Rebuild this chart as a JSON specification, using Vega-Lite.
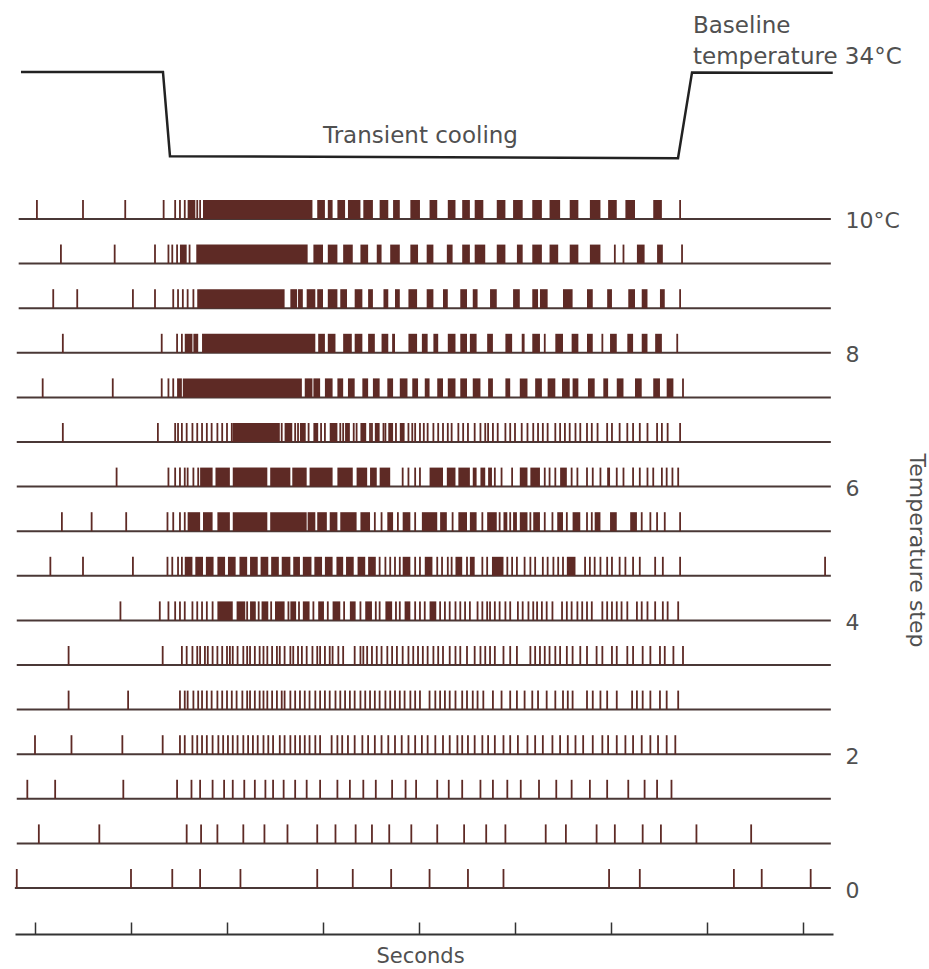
{
"$schema":"https://vega.github.io/schema/vega-lite/v6.json",
"width":818,"height":969,
"autosize":{"type":"none"},
"padding":{"left":15,"right":96,"top":0,"bottom":0},
"background":"white",
"config":{"view":{"stroke":null},"axis":{"labelFont":"DejaVu Sans","titleFont":"DejaVu Sans"}},
"datasets":{
"lanes":[{"r":0,"t0":-0.21,"t1":8.29},{"r":1,"t0":-0.19,"t1":8.29},{"r":2,"t0":-0.19,"t1":8.29},{"r":3,"t0":-0.19,"t1":8.29},{"r":4,"t0":-0.19,"t1":8.29},{"r":5,"t0":-0.19,"t1":8.29},{"r":6,"t0":-0.19,"t1":8.29},{"r":7,"t0":-0.19,"t1":8.29},{"r":8,"t0":-0.19,"t1":8.29},{"r":9,"t0":-0.19,"t1":8.29},{"r":10,"t0":-0.19,"t1":8.29},{"r":11,"t0":-0.19,"t1":8.29},{"r":12,"t0":-0.19,"t1":8.29},{"r":13,"t0":-0.17,"t1":8.29},{"r":14,"t0":-0.17,"t1":8.29},{"r":15,"t0":-0.17,"t1":8.29}],
"trace":[{"t":-0.146,"temp":34},{"t":1.333,"temp":34},{"t":1.406,"temp":24.1},{"t":6.698,"temp":23.85},{"t":6.844,"temp":33.95},{"t":8.31,"temp":33.9}],
"notes":[{"t":3.0,"temp":25.65,"label":"Transient cooling"},{"t":6.854,"temp":38.53,"label":"Baseline"},{"t":6.854,"temp":34.94,"label":"temperature 34°C"}],
"bursts":[
{"r":15,"t0":1.59,"t1":1.67},{"r":15,"t0":1.75,"t1":2.89},{"r":15,"t0":2.94,"t1":3.02},{"r":15,"t0":3.05,"t1":3.10},{"r":15,"t0":3.15,"t1":3.23},{"r":15,"t0":3.26,"t1":3.39},{"r":15,"t0":3.42,"t1":3.52},{"r":15,"t0":3.59,"t1":3.68},{"r":15,"t0":3.73,"t1":3.80},{"r":15,"t0":3.91,"t1":4.01},{"r":15,"t0":4.11,"t1":4.19},{"r":15,"t0":4.30,"t1":4.38},{"r":15,"t0":4.45,"t1":4.53},{"r":15,"t0":4.58,"t1":4.67},{"r":15,"t0":4.81,"t1":4.90},{"r":15,"t0":4.98,"t1":5.08},{"r":15,"t0":5.18,"t1":5.28},{"r":15,"t0":5.36,"t1":5.47},{"r":15,"t0":5.57,"t1":5.66},{"r":15,"t0":5.78,"t1":5.89},{"r":15,"t0":5.97,"t1":6.06},{"r":15,"t0":6.15,"t1":6.25},{"r":15,"t0":6.44,"t1":6.53},
{"r":14,"t0":1.51,"t1":1.58},{"r":14,"t0":1.68,"t1":2.84},{"r":14,"t0":2.90,"t1":3.00},{"r":14,"t0":3.05,"t1":3.15},{"r":14,"t0":3.21,"t1":3.31},{"r":14,"t0":3.39,"t1":3.47},{"r":14,"t0":3.56,"t1":3.61},{"r":14,"t0":3.70,"t1":3.80},{"r":14,"t0":3.91,"t1":3.99},{"r":14,"t0":4.08,"t1":4.15},{"r":14,"t0":4.29,"t1":4.35},{"r":14,"t0":4.45,"t1":4.53},{"r":14,"t0":4.58,"t1":4.69},{"r":14,"t0":4.81,"t1":4.90},{"r":14,"t0":5.02,"t1":5.08},{"r":14,"t0":5.18,"t1":5.28},{"r":14,"t0":5.36,"t1":5.45},{"r":14,"t0":5.57,"t1":5.66},{"r":14,"t0":5.78,"t1":5.89},{"r":14,"t0":6.27,"t1":6.35},{"r":14,"t0":6.48,"t1":6.54},
{"r":13,"t0":1.69,"t1":2.60},{"r":13,"t0":2.66,"t1":2.73},{"r":13,"t0":2.74,"t1":2.79},{"r":13,"t0":2.83,"t1":2.92},{"r":13,"t0":2.94,"t1":3.00},{"r":13,"t0":3.05,"t1":3.15},{"r":13,"t0":3.18,"t1":3.25},{"r":13,"t0":3.33,"t1":3.41},{"r":13,"t0":3.47,"t1":3.52},{"r":13,"t0":3.63,"t1":3.68},{"r":13,"t0":3.75,"t1":3.80},{"r":13,"t0":3.89,"t1":3.98},{"r":13,"t0":4.08,"t1":4.15},{"r":13,"t0":4.25,"t1":4.30},{"r":13,"t0":4.43,"t1":4.50},{"r":13,"t0":4.56,"t1":4.61},{"r":13,"t0":4.74,"t1":4.81},{"r":13,"t0":4.98,"t1":5.05},{"r":13,"t0":5.18,"t1":5.24},{"r":13,"t0":5.26,"t1":5.34},{"r":13,"t0":5.50,"t1":5.60},{"r":13,"t0":5.75,"t1":5.81},{"r":13,"t0":5.96,"t1":6.01},{"r":13,"t0":6.18,"t1":6.25},{"r":13,"t0":6.32,"t1":6.38},{"r":13,"t0":6.51,"t1":6.56},
{"r":12,"t0":1.56,"t1":1.64},{"r":12,"t0":1.65,"t1":1.70},{"r":12,"t0":1.74,"t1":2.92},{"r":12,"t0":2.95,"t1":3.02},{"r":12,"t0":3.05,"t1":3.13},{"r":12,"t0":3.21,"t1":3.30},{"r":12,"t0":3.33,"t1":3.41},{"r":12,"t0":3.47,"t1":3.54},{"r":12,"t0":3.61,"t1":3.68},{"r":12,"t0":3.72,"t1":3.75},{"r":12,"t0":3.89,"t1":3.98},{"r":12,"t0":4.03,"t1":4.09},{"r":12,"t0":4.15,"t1":4.20},{"r":12,"t0":4.30,"t1":4.38},{"r":12,"t0":4.43,"t1":4.50},{"r":12,"t0":4.53,"t1":4.60},{"r":12,"t0":4.71,"t1":4.77},{"r":12,"t0":4.90,"t1":4.97},{"r":12,"t0":5.07,"t1":5.10},{"r":12,"t0":5.18,"t1":5.26},{"r":12,"t0":5.42,"t1":5.50},{"r":12,"t0":5.59,"t1":5.66},{"r":12,"t0":5.75,"t1":5.81},{"r":12,"t0":5.99,"t1":6.06},{"r":12,"t0":6.17,"t1":6.23},{"r":12,"t0":6.32,"t1":6.38},{"r":12,"t0":6.46,"t1":6.53},
{"r":11,"t0":1.48,"t1":1.53},{"r":11,"t0":1.54,"t1":2.78},{"r":11,"t0":2.81,"t1":2.89},{"r":11,"t0":2.90,"t1":2.97},{"r":11,"t0":3.02,"t1":3.10},{"r":11,"t0":3.15,"t1":3.21},{"r":11,"t0":3.26,"t1":3.33},{"r":11,"t0":3.41,"t1":3.47},{"r":11,"t0":3.52,"t1":3.59},{"r":11,"t0":3.67,"t1":3.73},{"r":11,"t0":3.80,"t1":3.88},{"r":11,"t0":3.93,"t1":3.99},{"r":11,"t0":4.06,"t1":4.11},{"r":11,"t0":4.19,"t1":4.25},{"r":11,"t0":4.30,"t1":4.38},{"r":11,"t0":4.43,"t1":4.50},{"r":11,"t0":4.56,"t1":4.64},{"r":11,"t0":4.72,"t1":4.77},{"r":11,"t0":4.90,"t1":4.95},{"r":11,"t0":5.05,"t1":5.13},{"r":11,"t0":5.21,"t1":5.28},{"r":11,"t0":5.34,"t1":5.42},{"r":11,"t0":5.49,"t1":5.57},{"r":11,"t0":5.60,"t1":5.66},{"r":11,"t0":5.76,"t1":5.83},{"r":11,"t0":5.92,"t1":5.97},{"r":11,"t0":6.06,"t1":6.13},{"r":11,"t0":6.25,"t1":6.32},{"r":11,"t0":6.44,"t1":6.51},{"r":11,"t0":6.58,"t1":6.65},
{"r":10,"t0":2.06,"t1":2.55},{"r":10,"t0":2.60,"t1":2.68},{"r":10,"t0":2.76,"t1":2.82},{"r":10,"t0":2.90,"t1":2.95},{"r":10,"t0":3.07,"t1":3.15},{"r":10,"t0":3.23,"t1":3.28},{"r":10,"t0":3.39,"t1":3.45},{"r":10,"t0":3.54,"t1":3.59},{"r":10,"t0":3.68,"t1":3.73},{"r":10,"t0":3.80,"t1":3.85},
{"r":9,"t0":1.72,"t1":1.85},{"r":9,"t0":1.88,"t1":2.03},{"r":9,"t0":2.06,"t1":2.42},{"r":9,"t0":2.45,"t1":2.66},{"r":9,"t0":2.68,"t1":2.83},{"r":9,"t0":2.86,"t1":3.10},{"r":9,"t0":3.15,"t1":3.31},{"r":9,"t0":3.35,"t1":3.46},{"r":9,"t0":3.49,"t1":3.56},{"r":9,"t0":3.59,"t1":3.70},{"r":9,"t0":4.11,"t1":4.25},{"r":9,"t0":4.29,"t1":4.38},{"r":9,"t0":4.41,"t1":4.53},{"r":9,"t0":4.56,"t1":4.60},{"r":9,"t0":4.64,"t1":4.69},{"r":9,"t0":4.72,"t1":4.76},{"r":9,"t0":5.05,"t1":5.13},{"r":9,"t0":5.16,"t1":5.26},{"r":9,"t0":5.47,"t1":5.54},{"r":9,"t0":5.96,"t1":5.99},
{"r":8,"t0":1.59,"t1":1.72},{"r":8,"t0":1.75,"t1":1.85},{"r":8,"t0":1.90,"t1":2.03},{"r":8,"t0":2.06,"t1":2.42},{"r":8,"t0":2.45,"t1":2.83},{"r":8,"t0":2.84,"t1":2.92},{"r":8,"t0":2.94,"t1":3.04},{"r":8,"t0":3.07,"t1":3.15},{"r":8,"t0":3.18,"t1":3.35},{"r":8,"t0":3.39,"t1":3.49},{"r":8,"t0":3.67,"t1":3.73},{"r":8,"t0":3.83,"t1":3.91},{"r":8,"t0":4.03,"t1":4.19},{"r":8,"t0":4.22,"t1":4.29},{"r":8,"t0":4.41,"t1":4.50},{"r":8,"t0":4.53,"t1":4.60},{"r":8,"t0":4.71,"t1":4.81},{"r":8,"t0":4.88,"t1":4.92},{"r":8,"t0":4.98,"t1":5.02},{"r":8,"t0":5.05,"t1":5.13},{"r":8,"t0":5.19,"t1":5.26},{"r":8,"t0":5.44,"t1":5.50},{"r":8,"t0":5.60,"t1":5.68},{"r":8,"t0":5.83,"t1":5.89},{"r":8,"t0":5.99,"t1":6.06},{"r":8,"t0":6.20,"t1":6.27},
{"r":7,"t0":1.56,"t1":1.64},{"r":7,"t0":1.67,"t1":1.75},{"r":7,"t0":1.78,"t1":1.86},{"r":7,"t0":1.90,"t1":1.98},{"r":7,"t0":2.01,"t1":2.09},{"r":7,"t0":2.13,"t1":2.21},{"r":7,"t0":2.24,"t1":2.32},{"r":7,"t0":2.35,"t1":2.43},{"r":7,"t0":2.46,"t1":2.54},{"r":7,"t0":2.57,"t1":2.66},{"r":7,"t0":2.69,"t1":2.76},{"r":7,"t0":2.79,"t1":2.88},{"r":7,"t0":2.91,"t1":2.99},{"r":7,"t0":3.02,"t1":3.10},{"r":7,"t0":3.14,"t1":3.21},{"r":7,"t0":3.24,"t1":3.32},{"r":7,"t0":3.36,"t1":3.44},{"r":7,"t0":3.47,"t1":3.55},{"r":7,"t0":3.83,"t1":3.91},{"r":7,"t0":4.06,"t1":4.14},{"r":7,"t0":4.38,"t1":4.45},{"r":7,"t0":4.53,"t1":4.58},{"r":7,"t0":4.76,"t1":4.88},{"r":7,"t0":5.54,"t1":5.63},
{"r":6,"t0":1.90,"t1":2.06},{"r":6,"t0":2.10,"t1":2.19},{"r":6,"t0":2.24,"t1":2.30},{"r":6,"t0":2.36,"t1":2.43},{"r":6,"t0":2.50,"t1":2.60},{"r":6,"t0":2.66,"t1":2.72},{"r":6,"t0":2.79,"t1":2.86},{"r":6,"t0":2.95,"t1":3.01},{"r":6,"t0":3.10,"t1":3.18},{"r":6,"t0":3.28,"t1":3.34},{"r":6,"t0":3.44,"t1":3.51},{"r":6,"t0":3.65,"t1":3.72},{"r":6,"t0":3.85,"t1":3.91},{"r":6,"t0":4.11,"t1":4.18}
],
"spikes":[
{"r":15,"t":0.02},{"r":15,"t":0.50},{"r":15,"t":0.94},{"r":15,"t":1.34},{"r":15,"t":1.46},{"r":15,"t":1.51},{"r":15,"t":1.56},{"r":15,"t":1.69},{"r":15,"t":1.72},{"r":15,"t":6.72},
{"r":14,"t":0.27},{"r":14,"t":0.83},{"r":14,"t":1.25},{"r":14,"t":1.39},{"r":14,"t":1.43},{"r":14,"t":1.48},{"r":14,"t":1.61},{"r":14,"t":6.04},{"r":14,"t":6.13},{"r":14,"t":6.74},
{"r":13,"t":0.19},{"r":13,"t":0.44},{"r":13,"t":1.02},{"r":13,"t":1.25},{"r":13,"t":1.44},{"r":13,"t":1.49},{"r":13,"t":1.54},{"r":13,"t":1.59},{"r":13,"t":1.65},{"r":13,"t":6.72},
{"r":12,"t":0.29},{"r":12,"t":1.32},{"r":12,"t":1.48},{"r":12,"t":1.53},{"r":12,"t":5.31},{"r":12,"t":5.91},{"r":12,"t":6.69},
{"r":11,"t":0.08},{"r":11,"t":0.81},{"r":11,"t":1.32},{"r":11,"t":1.39},{"r":11,"t":1.44},{"r":11,"t":6.75},
{"r":10,"t":0.29},{"r":10,"t":1.28},{"r":10,"t":1.46},{"r":10,"t":1.49},{"r":10,"t":1.53},{"r":10,"t":1.58},{"r":10,"t":1.64},{"r":10,"t":1.69},{"r":10,"t":1.74},{"r":10,"t":1.79},{"r":10,"t":1.84},{"r":10,"t":1.90},{"r":10,"t":1.95},{"r":10,"t":2.00},{"r":10,"t":2.05},{"r":10,"t":2.57},{"r":10,"t":2.71},{"r":10,"t":2.74},{"r":10,"t":2.85},{"r":10,"t":2.98},{"r":10,"t":3.02},{"r":10,"t":3.18},{"r":10,"t":3.21},{"r":10,"t":3.32},{"r":10,"t":3.35},{"r":10,"t":3.49},{"r":10,"t":3.51},{"r":10,"t":3.63},{"r":10,"t":3.65},{"r":10,"t":3.76},{"r":10,"t":3.89},{"r":10,"t":3.93},{"r":10,"t":3.96},{"r":10,"t":4.01},{"r":10,"t":4.05},{"r":10,"t":4.09},{"r":10,"t":4.15},{"r":10,"t":4.20},{"r":10,"t":4.25},{"r":10,"t":4.30},{"r":10,"t":4.34},{"r":10,"t":4.41},{"r":10,"t":4.46},{"r":10,"t":4.51},{"r":10,"t":4.58},{"r":10,"t":4.64},{"r":10,"t":4.69},{"r":10,"t":4.72},{"r":10,"t":4.77},{"r":10,"t":4.82},{"r":10,"t":4.90},{"r":10,"t":4.95},{"r":10,"t":5.00},{"r":10,"t":5.07},{"r":10,"t":5.13},{"r":10,"t":5.19},{"r":10,"t":5.24},{"r":10,"t":5.29},{"r":10,"t":5.34},{"r":10,"t":5.42},{"r":10,"t":5.47},{"r":10,"t":5.52},{"r":10,"t":5.57},{"r":10,"t":5.63},{"r":10,"t":5.68},{"r":10,"t":5.75},{"r":10,"t":5.80},{"r":10,"t":5.86},{"r":10,"t":5.96},{"r":10,"t":6.01},{"r":10,"t":6.09},{"r":10,"t":6.17},{"r":10,"t":6.23},{"r":10,"t":6.30},{"r":10,"t":6.38},{"r":10,"t":6.48},{"r":10,"t":6.53},{"r":10,"t":6.59},{"r":10,"t":6.72},
{"r":9,"t":0.85},{"r":9,"t":1.39},{"r":9,"t":1.46},{"r":9,"t":1.51},{"r":9,"t":1.56},{"r":9,"t":1.59},{"r":9,"t":1.65},{"r":9,"t":1.70},{"r":9,"t":3.83},{"r":9,"t":3.89},{"r":9,"t":3.96},{"r":9,"t":4.01},{"r":9,"t":4.79},{"r":9,"t":4.86},{"r":9,"t":4.97},{"r":9,"t":5.31},{"r":9,"t":5.36},{"r":9,"t":5.42},{"r":9,"t":5.59},{"r":9,"t":5.65},{"r":9,"t":5.75},{"r":9,"t":5.81},{"r":9,"t":5.89},{"r":9,"t":6.06},{"r":9,"t":6.13},{"r":9,"t":6.23},{"r":9,"t":6.30},{"r":9,"t":6.38},{"r":9,"t":6.44},{"r":9,"t":6.53},{"r":9,"t":6.58},{"r":9,"t":6.64},{"r":9,"t":6.70},
{"r":8,"t":0.28},{"r":8,"t":0.59},{"r":8,"t":0.95},{"r":8,"t":1.38},{"r":8,"t":1.44},{"r":8,"t":1.51},{"r":8,"t":1.56},{"r":8,"t":3.54},{"r":8,"t":3.61},{"r":8,"t":3.78},{"r":8,"t":3.96},{"r":8,"t":4.35},{"r":8,"t":4.66},{"r":8,"t":4.84},{"r":8,"t":4.95},{"r":8,"t":5.16},{"r":8,"t":5.31},{"r":8,"t":5.39},{"r":8,"t":5.54},{"r":8,"t":5.75},{"r":8,"t":5.80},{"r":8,"t":6.32},{"r":8,"t":6.41},{"r":8,"t":6.48},{"r":8,"t":6.56},{"r":8,"t":6.72},
{"r":7,"t":0.16},{"r":7,"t":0.50},{"r":7,"t":1.02},{"r":7,"t":1.38},{"r":7,"t":1.43},{"r":7,"t":1.49},{"r":7,"t":1.53},{"r":7,"t":3.59},{"r":7,"t":3.65},{"r":7,"t":3.70},{"r":7,"t":3.75},{"r":7,"t":3.80},{"r":7,"t":3.96},{"r":7,"t":4.01},{"r":7,"t":4.19},{"r":7,"t":4.24},{"r":7,"t":4.30},{"r":7,"t":4.34},{"r":7,"t":4.50},{"r":7,"t":4.66},{"r":7,"t":4.71},{"r":7,"t":4.92},{"r":7,"t":4.97},{"r":7,"t":5.02},{"r":7,"t":5.10},{"r":7,"t":5.16},{"r":7,"t":5.21},{"r":7,"t":5.29},{"r":7,"t":5.34},{"r":7,"t":5.40},{"r":7,"t":5.45},{"r":7,"t":5.50},{"r":7,"t":5.73},{"r":7,"t":5.78},{"r":7,"t":5.83},{"r":7,"t":5.89},{"r":7,"t":5.96},{"r":7,"t":6.01},{"r":7,"t":6.09},{"r":7,"t":6.15},{"r":7,"t":6.23},{"r":7,"t":6.30},{"r":7,"t":6.46},{"r":7,"t":6.54},{"r":7,"t":6.72},{"r":7,"t":8.23},
{"r":6,"t":0.89},{"r":6,"t":1.30},{"r":6,"t":1.39},{"r":6,"t":1.46},{"r":6,"t":1.51},{"r":6,"t":1.56},{"r":6,"t":1.64},{"r":6,"t":1.69},{"r":6,"t":1.74},{"r":6,"t":1.79},{"r":6,"t":1.85},{"r":6,"t":2.21},{"r":6,"t":2.33},{"r":6,"t":2.46},{"r":6,"t":2.64},{"r":6,"t":2.75},{"r":6,"t":2.90},{"r":6,"t":3.05},{"r":6,"t":3.22},{"r":6,"t":3.39},{"r":6,"t":3.55},{"r":6,"t":3.59},{"r":6,"t":3.76},{"r":6,"t":3.80},{"r":6,"t":3.96},{"r":6,"t":4.01},{"r":6,"t":4.06},{"r":6,"t":4.22},{"r":6,"t":4.27},{"r":6,"t":4.32},{"r":6,"t":4.38},{"r":6,"t":4.43},{"r":6,"t":4.48},{"r":6,"t":4.53},{"r":6,"t":4.61},{"r":6,"t":4.66},{"r":6,"t":4.71},{"r":6,"t":4.74},{"r":6,"t":4.79},{"r":6,"t":4.84},{"r":6,"t":4.90},{"r":6,"t":4.95},{"r":6,"t":5.03},{"r":6,"t":5.08},{"r":6,"t":5.14},{"r":6,"t":5.19},{"r":6,"t":5.23},{"r":6,"t":5.28},{"r":6,"t":5.33},{"r":6,"t":5.39},{"r":6,"t":5.49},{"r":6,"t":5.54},{"r":6,"t":5.59},{"r":6,"t":5.65},{"r":6,"t":5.70},{"r":6,"t":5.75},{"r":6,"t":5.80},{"r":6,"t":5.91},{"r":6,"t":5.96},{"r":6,"t":6.01},{"r":6,"t":6.06},{"r":6,"t":6.11},{"r":6,"t":6.17},{"r":6,"t":6.27},{"r":6,"t":6.32},{"r":6,"t":6.38},{"r":6,"t":6.46},{"r":6,"t":6.54},{"r":6,"t":6.59},{"r":6,"t":6.70},
{"r":5,"t":0.35},{"r":5,"t":1.33},{"r":5,"t":1.53},{"r":5,"t":1.58},{"r":5,"t":1.64},{"r":5,"t":1.69},{"r":5,"t":1.72},{"r":5,"t":1.77},{"r":5,"t":1.80},{"r":5,"t":1.85},{"r":5,"t":1.90},{"r":5,"t":1.95},{"r":5,"t":2.00},{"r":5,"t":2.03},{"r":5,"t":2.06},{"r":5,"t":2.11},{"r":5,"t":2.17},{"r":5,"t":2.21},{"r":5,"t":2.24},{"r":5,"t":2.29},{"r":5,"t":2.34},{"r":5,"t":2.38},{"r":5,"t":2.42},{"r":5,"t":2.47},{"r":5,"t":2.52},{"r":5,"t":2.55},{"r":5,"t":2.60},{"r":5,"t":2.66},{"r":5,"t":2.69},{"r":5,"t":2.74},{"r":5,"t":2.78},{"r":5,"t":2.83},{"r":5,"t":2.89},{"r":5,"t":2.94},{"r":5,"t":2.97},{"r":5,"t":3.02},{"r":5,"t":3.07},{"r":5,"t":3.10},{"r":5,"t":3.16},{"r":5,"t":3.21},{"r":5,"t":3.33},{"r":5,"t":3.39},{"r":5,"t":3.42},{"r":5,"t":3.46},{"r":5,"t":3.51},{"r":5,"t":3.56},{"r":5,"t":3.61},{"r":5,"t":3.67},{"r":5,"t":3.72},{"r":5,"t":3.77},{"r":5,"t":3.83},{"r":5,"t":3.89},{"r":5,"t":3.94},{"r":5,"t":3.99},{"r":5,"t":4.04},{"r":5,"t":4.09},{"r":5,"t":4.15},{"r":5,"t":4.20},{"r":5,"t":4.25},{"r":5,"t":4.32},{"r":5,"t":4.38},{"r":5,"t":4.43},{"r":5,"t":4.50},{"r":5,"t":4.58},{"r":5,"t":4.64},{"r":5,"t":4.69},{"r":5,"t":4.74},{"r":5,"t":4.79},{"r":5,"t":4.88},{"r":5,"t":4.95},{"r":5,"t":5.02},{"r":5,"t":5.16},{"r":5,"t":5.21},{"r":5,"t":5.26},{"r":5,"t":5.31},{"r":5,"t":5.36},{"r":5,"t":5.42},{"r":5,"t":5.47},{"r":5,"t":5.54},{"r":5,"t":5.60},{"r":5,"t":5.68},{"r":5,"t":5.75},{"r":5,"t":5.85},{"r":5,"t":5.91},{"r":5,"t":6.01},{"r":5,"t":6.06},{"r":5,"t":6.17},{"r":5,"t":6.23},{"r":5,"t":6.33},{"r":5,"t":6.41},{"r":5,"t":6.51},{"r":5,"t":6.56},{"r":5,"t":6.65},{"r":5,"t":6.75},
{"r":4,"t":0.35},{"r":4,"t":0.97},{"r":4,"t":1.51},{"r":4,"t":1.56},{"r":4,"t":1.59},{"r":4,"t":1.65},{"r":4,"t":1.70},{"r":4,"t":1.74},{"r":4,"t":1.79},{"r":4,"t":1.84},{"r":4,"t":1.90},{"r":4,"t":1.95},{"r":4,"t":2.00},{"r":4,"t":2.05},{"r":4,"t":2.10},{"r":4,"t":2.16},{"r":4,"t":2.21},{"r":4,"t":2.24},{"r":4,"t":2.29},{"r":4,"t":2.34},{"r":4,"t":2.38},{"r":4,"t":2.42},{"r":4,"t":2.47},{"r":4,"t":2.52},{"r":4,"t":2.57},{"r":4,"t":2.60},{"r":4,"t":2.66},{"r":4,"t":2.71},{"r":4,"t":2.76},{"r":4,"t":2.81},{"r":4,"t":2.86},{"r":4,"t":2.92},{"r":4,"t":2.97},{"r":4,"t":3.02},{"r":4,"t":3.07},{"r":4,"t":3.13},{"r":4,"t":3.18},{"r":4,"t":3.23},{"r":4,"t":3.28},{"r":4,"t":3.33},{"r":4,"t":3.39},{"r":4,"t":3.44},{"r":4,"t":3.49},{"r":4,"t":3.54},{"r":4,"t":3.59},{"r":4,"t":3.65},{"r":4,"t":3.70},{"r":4,"t":3.75},{"r":4,"t":3.80},{"r":4,"t":3.85},{"r":4,"t":3.91},{"r":4,"t":3.96},{"r":4,"t":4.01},{"r":4,"t":4.11},{"r":4,"t":4.17},{"r":4,"t":4.22},{"r":4,"t":4.27},{"r":4,"t":4.32},{"r":4,"t":4.38},{"r":4,"t":4.45},{"r":4,"t":4.50},{"r":4,"t":4.56},{"r":4,"t":4.61},{"r":4,"t":4.67},{"r":4,"t":4.77},{"r":4,"t":4.86},{"r":4,"t":4.95},{"r":4,"t":5.02},{"r":4,"t":5.10},{"r":4,"t":5.18},{"r":4,"t":5.24},{"r":4,"t":5.33},{"r":4,"t":5.42},{"r":4,"t":5.50},{"r":4,"t":5.55},{"r":4,"t":5.60},{"r":4,"t":5.75},{"r":4,"t":5.81},{"r":4,"t":5.89},{"r":4,"t":5.96},{"r":4,"t":6.06},{"r":4,"t":6.22},{"r":4,"t":6.27},{"r":4,"t":6.33},{"r":4,"t":6.41},{"r":4,"t":6.51},{"r":4,"t":6.58},{"r":4,"t":6.70},
{"r":3,"t":0.00},{"r":3,"t":0.38},{"r":3,"t":0.91},{"r":3,"t":1.33},{"r":3,"t":1.51},{"r":3,"t":1.56},{"r":3,"t":1.64},{"r":3,"t":1.69},{"r":3,"t":1.74},{"r":3,"t":1.79},{"r":3,"t":1.85},{"r":3,"t":1.91},{"r":3,"t":1.96},{"r":3,"t":2.01},{"r":3,"t":2.06},{"r":3,"t":2.11},{"r":3,"t":2.17},{"r":3,"t":2.22},{"r":3,"t":2.27},{"r":3,"t":2.32},{"r":3,"t":2.38},{"r":3,"t":2.43},{"r":3,"t":2.48},{"r":3,"t":2.55},{"r":3,"t":2.60},{"r":3,"t":2.66},{"r":3,"t":2.71},{"r":3,"t":2.76},{"r":3,"t":2.81},{"r":3,"t":2.86},{"r":3,"t":2.92},{"r":3,"t":2.97},{"r":3,"t":3.09},{"r":3,"t":3.15},{"r":3,"t":3.20},{"r":3,"t":3.26},{"r":3,"t":3.33},{"r":3,"t":3.41},{"r":3,"t":3.47},{"r":3,"t":3.54},{"r":3,"t":3.61},{"r":3,"t":3.68},{"r":3,"t":3.75},{"r":3,"t":3.82},{"r":3,"t":3.89},{"r":3,"t":3.96},{"r":3,"t":4.03},{"r":3,"t":4.09},{"r":3,"t":4.17},{"r":3,"t":4.25},{"r":3,"t":4.32},{"r":3,"t":4.40},{"r":3,"t":4.45},{"r":3,"t":4.51},{"r":3,"t":4.58},{"r":3,"t":4.66},{"r":3,"t":4.72},{"r":3,"t":4.79},{"r":3,"t":4.88},{"r":3,"t":4.95},{"r":3,"t":5.03},{"r":3,"t":5.13},{"r":3,"t":5.21},{"r":3,"t":5.29},{"r":3,"t":5.39},{"r":3,"t":5.47},{"r":3,"t":5.55},{"r":3,"t":5.63},{"r":3,"t":5.71},{"r":3,"t":5.81},{"r":3,"t":5.91},{"r":3,"t":5.97},{"r":3,"t":6.06},{"r":3,"t":6.15},{"r":3,"t":6.23},{"r":3,"t":6.32},{"r":3,"t":6.41},{"r":3,"t":6.49},{"r":3,"t":6.58},{"r":3,"t":6.67},
{"r":2,"t":-0.08},{"r":2,"t":0.21},{"r":2,"t":0.92},{"r":2,"t":1.48},{"r":2,"t":1.63},{"r":2,"t":1.72},{"r":2,"t":1.85},{"r":2,"t":1.97},{"r":2,"t":2.06},{"r":2,"t":2.18},{"r":2,"t":2.29},{"r":2,"t":2.40},{"r":2,"t":2.48},{"r":2,"t":2.59},{"r":2,"t":2.71},{"r":2,"t":2.83},{"r":2,"t":2.97},{"r":2,"t":3.15},{"r":2,"t":3.28},{"r":2,"t":3.42},{"r":2,"t":3.55},{"r":2,"t":3.72},{"r":2,"t":3.86},{"r":2,"t":3.97},{"r":2,"t":4.19},{"r":2,"t":4.31},{"r":2,"t":4.45},{"r":2,"t":4.64},{"r":2,"t":4.77},{"r":2,"t":4.92},{"r":2,"t":5.06},{"r":2,"t":5.25},{"r":2,"t":5.43},{"r":2,"t":5.59},{"r":2,"t":5.78},{"r":2,"t":5.96},{"r":2,"t":6.18},{"r":2,"t":6.35},{"r":2,"t":6.48},{"r":2,"t":6.63},
{"r":1,"t":0.04},{"r":1,"t":0.67},{"r":1,"t":1.58},{"r":1,"t":1.73},{"r":1,"t":1.90},{"r":1,"t":2.17},{"r":1,"t":2.39},{"r":1,"t":2.63},{"r":1,"t":2.94},{"r":1,"t":3.13},{"r":1,"t":3.34},{"r":1,"t":3.51},{"r":1,"t":3.69},{"r":1,"t":3.92},{"r":1,"t":4.19},{"r":1,"t":4.47},{"r":1,"t":4.70},{"r":1,"t":4.90},{"r":1,"t":5.32},{"r":1,"t":5.53},{"r":1,"t":5.85},{"r":1,"t":6.04},{"r":1,"t":6.33},{"r":1,"t":6.52},{"r":1,"t":6.89},{"r":1,"t":7.46},
{"r":0,"t":-0.19},{"r":0,"t":1.00},{"r":0,"t":1.43},{"r":0,"t":1.72},{"r":0,"t":2.14},{"r":0,"t":2.94},{"r":0,"t":3.31},{"r":0,"t":3.71},{"r":0,"t":4.11},{"r":0,"t":4.51},{"r":0,"t":4.88},{"r":0,"t":5.98},{"r":0,"t":6.30},{"r":0,"t":7.28},{"r":0,"t":7.57},{"r":0,"t":8.08}
]
},
"layer":[
{"layer":[
{"data":{"name":"lanes"},"mark":{"type":"rule","color":"#4a3836","strokeWidth":2},
"encoding":{
"x":{"field":"t0","type":"quantitative","scale":{"domain":[-0.2083,8.3125],"nice":false,"zero":false},
"axis":{"orient":"bottom","offset":-35,"values":[0,1,2,3,4,5,6,7,8],"labels":false,"grid":false,"tickSize":-12,"tickColor":"#333333","tickWidth":1.5,"domainColor":"#333333","domainWidth":2,"title":"Seconds","titleFontSize":21,"titleFontWeight":"normal","titleColor":"#505050","titleX":405,"titleY":28,"titleAlign":"center","titleBaseline":"alphabetic"}},
"x2":{"field":"t1"},
"y":{"field":"r","type":"quantitative","scale":{"domain":[-1.816,19.91],"nice":false,"zero":false},
"axis":{"orient":"right","values":[0,3,6,9,12,15],"labelExpr":"datum.value == 15 ? '10°C' : format(datum.value * 2 / 3, 'd')","domain":false,"ticks":false,"tickSize":0,"grid":false,"labelPadding":12,"labelFontSize":22,"labelColor":"#505050","labelAlign":"left","labelBaseline":"middle","labelOffset":2,"labelFlush":false,"labelOverlap":false,"title":"Temperature step","titleAngle":90,"titleX":83,"titleY":550,"titleAlign":"center","titleBaseline":"middle","titleFontSize":22,"titleFontWeight":"normal","titleColor":"#505050"}}}},
{"data":{"name":"bursts"},"mark":{"type":"rect","color":"#5e2a25","y2Offset":-19},
"encoding":{"x":{"field":"t0","type":"quantitative","scale":{"domain":[-0.2083,8.3125],"nice":false,"zero":false}},"x2":{"field":"t1"},"y":{"field":"r","type":"quantitative","scale":{"domain":[-1.816,19.91],"nice":false,"zero":false}},"y2":{"field":"r"}}},
{"data":{"name":"spikes"},"mark":{"type":"rule","color":"#5e2a25","strokeWidth":1.8,"y2Offset":-19},
"encoding":{"x":{"field":"t","type":"quantitative","scale":{"domain":[-0.2083,8.3125],"nice":false,"zero":false}},"y":{"field":"r","type":"quantitative","scale":{"domain":[-1.816,19.91],"nice":false,"zero":false}},"y2":{"field":"r"}}}
]},
{"layer":[
{"data":{"name":"trace"},"mark":{"type":"line","color":"#222222","strokeWidth":2.5},
"encoding":{"x":{"field":"t","type":"quantitative","scale":{"domain":[-0.2083,8.3125],"nice":false,"zero":false}},"y":{"field":"temp","type":"quantitative","scale":{"domain":[-71.53,42.47],"nice":false,"zero":false},"axis":null}}},
{"data":{"name":"notes"},"mark":{"type":"text","align":"left","baseline":"alphabetic","fontSize":23,"color":"#505050","font":"DejaVu Sans"},
"encoding":{"x":{"field":"t","type":"quantitative","scale":{"domain":[-0.2083,8.3125],"nice":false,"zero":false}},"y":{"field":"temp","type":"quantitative","scale":{"domain":[-71.53,42.47],"nice":false,"zero":false},"axis":null},"text":{"field":"label"}}}
]}
],
"resolve":{"scale":{"y":"independent"}}
}
